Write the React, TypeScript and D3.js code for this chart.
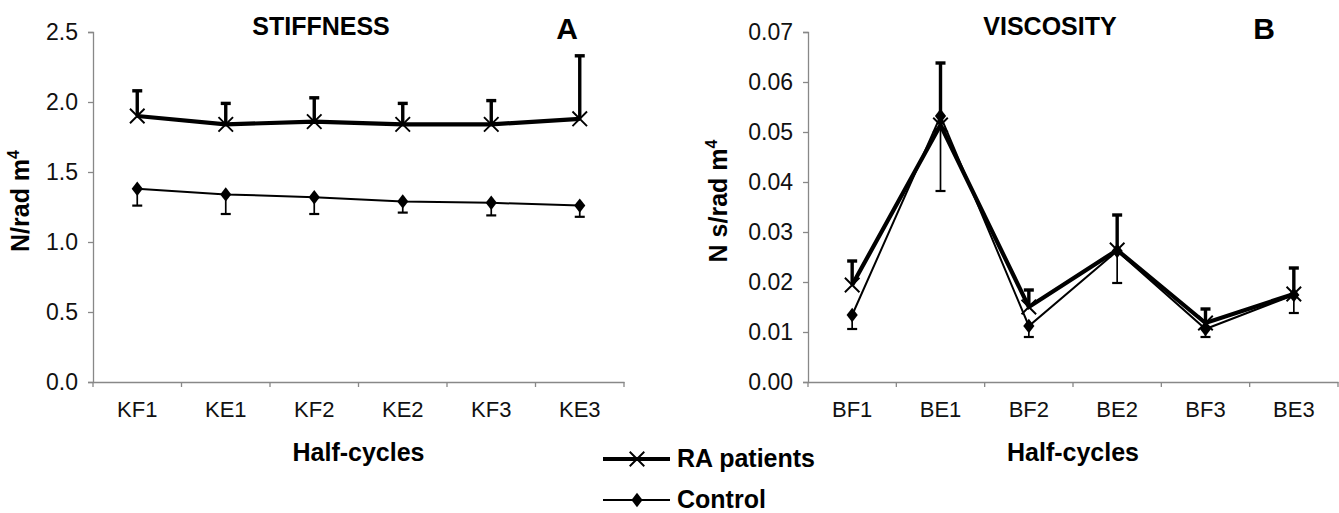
import { useEffect, useRef } from "react";
import * as d3 from "d3";

// panel A - stiffness
const stiffCats = ["KF1", "KE1", "KF2", "KE2", "KF3", "KE3"];
const stiffRA = [1.9, 1.84, 1.86, 1.84, 1.84, 1.88];
const stiffRAErr = [0.18, 0.15, 0.17, 0.15, 0.17, 0.45];
const stiffCtrl = [1.38, 1.34, 1.32, 1.29, 1.28, 1.26];
const stiffCtrlErr = [0.12, 0.14, 0.12, 0.08, 0.09, 0.08];
const stiffTicks = [0, 0.5, 1.0, 1.5, 2.0, 2.5];

// panel B - viscosity
const viscCats = ["BF1", "BE1", "BF2", "BE2", "BF3", "BE3"];
const viscRA = [0.0194, 0.0514, 0.015, 0.0264, 0.0118, 0.0176];
const viscRAErr = [0.0048, 0.0124, 0.0034, 0.007, 0.0028, 0.0052];
const viscCtrl = [0.0134, 0.0532, 0.0112, 0.0262, 0.0106, 0.0174];
const viscCtrlErr = [0.0028, 0.015, 0.0022, 0.0064, 0.0016, 0.0036];
const viscTicks = [0, 0.01, 0.02, 0.03, 0.04, 0.05, 0.06, 0.07];

const FONT = "'Liberation Sans', Arial, sans-serif";

const App = () => {
    const svgRef = useRef();

    useEffect(() => {
        const svg = d3.select(svgRef.current);
        svg.selectAll("*").remove();

        const drawPanel = (opts) => {
            const { left, right, top, bottom, cats, ra, raErr, ctrl, ctrlErr, ticks, fmt, title, titleX, letter, letterX, ylabel, ylabelX } = opts;
            const x = d3.scaleBand().domain(cats).range([left, right]);
            const y = d3.scaleLinear().domain([ticks[0], ticks[ticks.length - 1]]).range([bottom, top]);
            const g = svg.append("g");

            // axes
            const yAxis = g.append("g").attr("transform", `translate(${left},0)`)
                .call(d3.axisLeft(y).tickValues(ticks).tickFormat(fmt).tickSize(5).tickPadding(10));
            const xAxis = g.append("g").attr("transform", `translate(0,${bottom})`)
                .call(d3.axisBottom(x).tickSize(0).tickPadding(19));
            // tick marks at band boundaries
            xAxis.selectAll(".bound").data(d3.range(cats.length + 1)).enter().append("line")
                .attr("x1", (i) => left + i * x.step()).attr("x2", (i) => left + i * x.step())
                .attr("y1", 0).attr("y2", 5).attr("stroke", "#888");
            [yAxis, xAxis].forEach((a) => {
                a.selectAll("path, line").attr("stroke", "#888").attr("stroke-width", 1.3);
                a.selectAll("text").attr("font-family", FONT).attr("fill", "#111");
            });
            yAxis.selectAll("text").attr("font-size", 23);
            xAxis.selectAll("text").attr("font-size", 22);

            const cx = (i) => x(cats[i]) + x.bandwidth() / 2;
            const line = d3.line().x((d, i) => cx(i)).y((d) => y(d));

            // control error bars (down)
            ctrl.forEach((v, i) => {
                const yb = y(v - ctrlErr[i]);
                g.append("line").attr("x1", cx(i)).attr("x2", cx(i)).attr("y1", y(v)).attr("y2", yb)
                    .attr("stroke", "#000").attr("stroke-width", 1.7);
                g.append("line").attr("x1", cx(i) - 5).attr("x2", cx(i) + 5).attr("y1", yb).attr("y2", yb)
                    .attr("stroke", "#000").attr("stroke-width", 2.2);
            });
            // RA error bars (up)
            ra.forEach((v, i) => {
                const yt = y(v + raErr[i]);
                g.append("line").attr("x1", cx(i)).attr("x2", cx(i)).attr("y1", y(v)).attr("y2", yt)
                    .attr("stroke", "#000").attr("stroke-width", 3.4);
                g.append("line").attr("x1", cx(i) - 5).attr("x2", cx(i) + 5).attr("y1", yt).attr("y2", yt)
                    .attr("stroke", "#000").attr("stroke-width", 3.4);
            });

            g.append("path").datum(ctrl).attr("d", line).attr("fill", "none")
                .attr("stroke", "#000").attr("stroke-width", 2);
            g.append("path").datum(ra).attr("d", line).attr("fill", "none")
                .attr("stroke", "#000").attr("stroke-width", 4.2);

            ctrl.forEach((v, i) => {
                g.append("path").attr("d", d3.symbol(d3.symbolDiamond2, 110)())
                    .attr("transform", `translate(${cx(i)},${y(v)}) scale(0.85,1.1)`).attr("fill", "#000");
            });
            ra.forEach((v, i) => {
                g.append("path").attr("d", d3.symbol(d3.symbolTimes, 140)())
                    .attr("transform", `translate(${cx(i)},${y(v)})`)
                    .attr("fill", "none").attr("stroke", "#000").attr("stroke-width", 1.9);
            });

            g.append("text").attr("x", titleX).attr("y", 35).attr("text-anchor", "middle")
                .attr("font-family", FONT).attr("font-weight", "bold").attr("font-size", 25).text(title);
            g.append("text").attr("x", letterX).attr("y", 39).attr("text-anchor", "middle")
                .attr("font-family", FONT).attr("font-weight", "bold").attr("font-size", 30).text(letter);
            g.append("text").attr("x", (left + right) / 2).attr("y", 461).attr("text-anchor", "middle")
                .attr("font-family", FONT).attr("font-weight", "bold").attr("font-size", 25).text("Half-cycles");
            const yl = g.append("text").attr("transform", `translate(${ylabelX},${(top + bottom) / 2 - 6}) rotate(-90)`)
                .attr("text-anchor", "middle").attr("font-family", FONT).attr("font-weight", "bold").attr("font-size", 25);
            yl.append("tspan").text(ylabel);
            yl.append("tspan").attr("dy", -10).attr("font-size", 16).text("4");
        };

        drawPanel({
            left: 93, right: 624, top: 32, bottom: 382,
            cats: stiffCats, ra: stiffRA, raErr: stiffRAErr, ctrl: stiffCtrl, ctrlErr: stiffCtrlErr,
            ticks: stiffTicks, fmt: d3.format(".1f"),
            title: "STIFFNESS", titleX: 321, letter: "A", letterX: 567, ylabel: "N/rad m", ylabelX: 29,
        });
        drawPanel({
            left: 808, right: 1338, top: 32, bottom: 382,
            cats: viscCats, ra: viscRA, raErr: viscRAErr, ctrl: viscCtrl, ctrlErr: viscCtrlErr,
            ticks: viscTicks, fmt: d3.format(".2f"),
            title: "VISCOSITY", titleX: 1050, letter: "B", letterX: 1264, ylabel: "N s/rad m", ylabelX: 727,
        });

        // legend
        const lg = svg.append("g");
        lg.append("line").attr("x1", 603).attr("x2", 670).attr("y1", 459).attr("y2", 459)
            .attr("stroke", "#000").attr("stroke-width", 4.2);
        lg.append("path").attr("d", d3.symbol(d3.symbolTimes, 140)())
            .attr("transform", "translate(637,459)").attr("fill", "none").attr("stroke", "#000").attr("stroke-width", 1.9);
        lg.append("text").attr("x", 677).attr("y", 467).attr("font-family", FONT).attr("font-weight", "bold")
            .attr("font-size", 25).text("RA patients");
        lg.append("line").attr("x1", 603).attr("x2", 670).attr("y1", 500).attr("y2", 500)
            .attr("stroke", "#000").attr("stroke-width", 2);
        lg.append("path").attr("d", d3.symbol(d3.symbolDiamond2, 110)())
            .attr("transform", "translate(637,500) scale(0.85,1.1)").attr("fill", "#000");
        lg.append("text").attr("x", 677).attr("y", 508).attr("font-family", FONT).attr("font-weight", "bold")
            .attr("font-size", 25).text("Control");
    }, []);

    return (
        <svg ref={svgRef} width={1339} height={513}
            style={{ position: "absolute", left: 0, top: 0, background: "#fff" }} />
    );
};

export default App;
